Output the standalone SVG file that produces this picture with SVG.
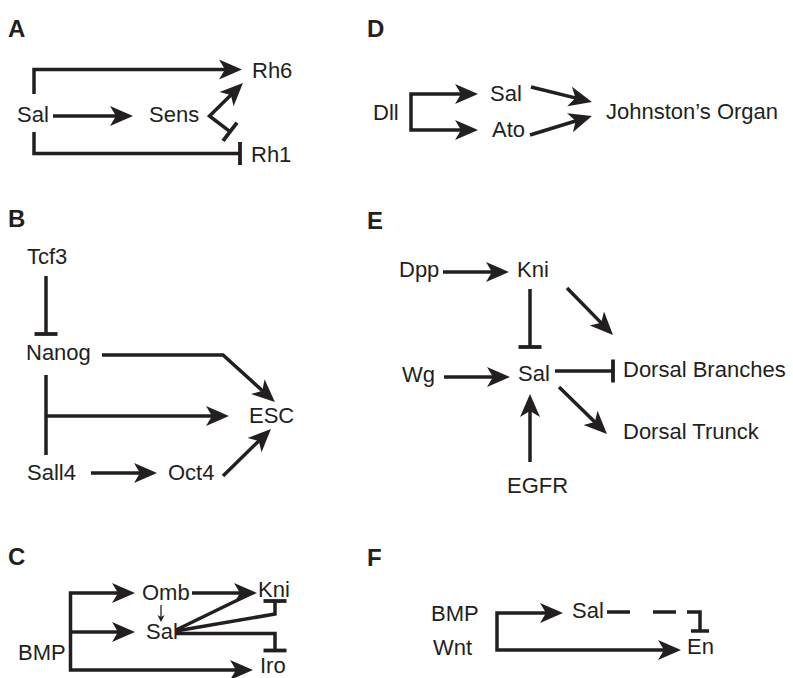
<svg xmlns="http://www.w3.org/2000/svg" width="793" height="678" viewBox="0 0 793 678">
<style>
text{font-family:"Liberation Sans",Arial,sans-serif;font-size:22px;fill:#231f20}
.lbl{font-weight:bold;font-size:24px}
.c{fill:none;stroke:#231f20;stroke-width:3.5;stroke-linejoin:miter}
.a{marker-end:url(#ah)}
.as{marker-start:url(#ah)}
.t{marker-end:url(#tb)}
.thin{fill:none;stroke:#231f20;stroke-width:1.3;marker-end:url(#sah)}
</style>
<defs>
<marker id="ah" markerUnits="userSpaceOnUse" viewBox="-25 -12 27 24" refX="-12" refY="0" markerWidth="27" markerHeight="24" orient="auto-start-reverse"><path d="M0,0 L-23,-10 L-17,0 L-23,10 Z" fill="#231f20"/></marker>
<marker id="tb" markerUnits="userSpaceOnUse" viewBox="-3 -13 6 26" refX="0" refY="0" markerWidth="6" markerHeight="26" orient="auto"><rect x="-1.9" y="-11.5" width="3.8" height="23" fill="#231f20"/></marker>
<marker id="sah" markerUnits="userSpaceOnUse" viewBox="-8 -5 9 10" refX="-2" refY="0" markerWidth="9" markerHeight="10" orient="auto"><path d="M0,0 L-7,-3.5 L-5,0 L-7,3.5 Z" fill="#231f20"/></marker>
</defs>
<rect width="793" height="678" fill="#fff"/>
<g id="panel-labels">
<text class="lbl" x="8" y="37">A</text>
<text class="lbl" x="8" y="227">B</text>
<text class="lbl" x="8" y="565">C</text>
<text class="lbl" x="367" y="37">D</text>
<text class="lbl" x="367" y="229">E</text>
<text class="lbl" x="367" y="566">F</text>
</g>
<!-- Panel A -->
<g id="A-Sal"><text x="17" y="122">Sal</text></g>
<g id="A-Sens"><text x="149" y="122">Sens</text></g>
<g id="A-Rh6"><text x="252" y="78">Rh6</text></g>
<g id="A-Rh1"><text x="251" y="162">Rh1</text></g>
<!-- Panel B -->
<g id="B-Tcf3"><text x="27" y="264">Tcf3</text></g>
<g id="B-Nanog"><text x="26" y="360">Nanog</text></g>
<g id="B-ESC"><text x="249" y="423">ESC</text></g>
<g id="B-Sall4"><text x="27" y="480">Sall4</text></g>
<g id="B-Oct4"><text x="168" y="480">Oct4</text></g>
<!-- Panel C -->
<g id="C-Omb"><text x="142" y="600">Omb</text></g>
<g id="C-Kni"><text x="258" y="597">Kni</text></g>
<g id="C-Sal"><text x="146" y="639">Sal</text></g>
<g id="C-BMP"><text x="18" y="660">BMP</text></g>
<g id="C-Iro"><text x="260" y="673">Iro</text></g>
<!-- Panel D -->
<g id="D-Dll"><text x="373" y="120">Dll</text></g>
<g id="D-Sal"><text x="490" y="101">Sal</text></g>
<g id="D-Ato"><text x="492" y="137">Ato</text></g>
<g id="D-JO"><text x="606" y="119">Johnston’s Organ</text></g>
<!-- Panel E -->
<g id="E-Dpp"><text x="399" y="277">Dpp</text></g>
<g id="E-Kni"><text x="517" y="277">Kni</text></g>
<g id="E-Wg"><text x="402" y="382">Wg</text></g>
<g id="E-Sal"><text x="518" y="381">Sal</text></g>
<g id="E-DB"><text x="623" y="377">Dorsal Branches</text></g>
<g id="E-DT"><text x="623" y="439">Dorsal Trunck</text></g>
<g id="E-EGFR"><text x="507" y="493">EGFR</text></g>
<!-- Panel F -->
<g id="F-BMP"><text x="431" y="621">BMP</text></g>
<g id="F-Wnt"><text x="433" y="655">Wnt</text></g>
<g id="F-Sal"><text x="572" y="618">Sal</text></g>
<g id="F-En"><text x="687" y="654">En</text></g>
<g id="connectors">
<!-- A -->
<path class="c a" d="M34,94 V69.5 H230"/>
<path class="c a" d="M53,116 H121"/>
<path class="c as t" d="M234.4,91.4 L209.5,116 L230,131.7"/>
<path class="c t" d="M34,132 V153.5 H240"/>
<!-- B -->
<path class="c t" d="M46,276 V334"/>
<path class="c a" d="M102,355 H223 L266,394"/>
<path class="c" d="M46,375 V455"/>
<path class="c a" d="M46,416 H217"/>
<path class="c a" d="M91,473 H145"/>
<path class="c a" d="M223,476 L262.4,437.4"/>
<!-- C -->
<path class="c as a" d="M123,593 H70.5 V670 H241"/>
<path class="c a" d="M70.5,632 H123"/>
<path class="c a" d="M192,593 H245"/>
<path class="c" d="M176,630 L248,595"/>
<path class="c t" d="M176,631 L275,614 V601"/>
<path class="c t" d="M176,633.5 H275 V650.5"/>
<path class="thin" d="M161,605 V620"/>
<!-- D -->
<path class="c as a" d="M466,94 H411 V130 H466"/>
<path class="c a" d="M531,87 L580.3,99.1"/>
<path class="c a" d="M530,135 L580.5,119.5"/>
<!-- E -->
<path class="c a" d="M443,272 H497"/>
<path class="c t" d="M530,289 V347"/>
<path class="c a" d="M567,288 L604.6,326.4"/>
<path class="c a" d="M444,377 H498"/>
<path class="c t" d="M555,371 H613"/>
<path class="c a" d="M559,387 L598.4,425.6"/>
<path class="c a" d="M530,462 V406"/>
<!-- F -->
<path class="c as a" d="M551,613 H497 V650 H669"/>
<path class="c" d="M607,612 H630 M653,612 H676 M687,612 H700 V631 M691,631 H709"/>
</g>
</svg>
